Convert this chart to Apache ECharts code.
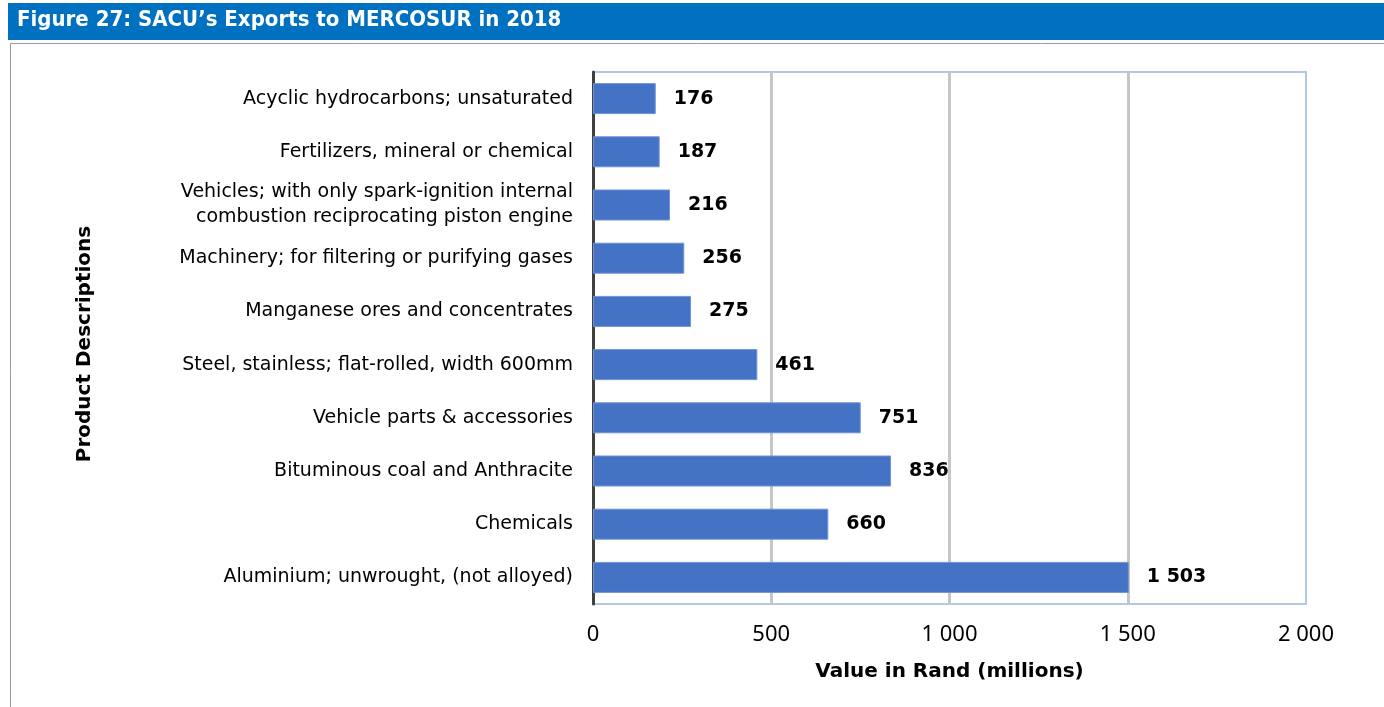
<!DOCTYPE html>
<html>
<head>
<meta charset="utf-8">
<script src="https://cdn.jsdelivr.net/npm/echarts@6/dist/echarts.min.js"></script>
<style>
html,body{margin:0;padding:0;background:#fff;}
#c{width:1384px;height:707px;}
</style>
</head>
<body>
<div id="c"></div>
<script>
const titleText = "Figure 27: SACU\u2019s Exports to MERCOSUR in 2018";
const categories = [
  "Acyclic hydrocarbons; unsaturated",
  "Fertilizers, mineral or chemical",
  "Vehicles; with only spark-ignition internal\ncombustion reciprocating piston engine",
  "Machinery; for filtering or purifying gases",
  "Manganese ores and concentrates",
  "Steel, stainless; flat-rolled, width 600mm",
  "Vehicle parts & accessories",
  "Bituminous coal and Anthracite",
  "Chemicals",
  "Aluminium; unwrought, (not alloyed)"
];
const values = [176, 187, 216, 256, 275, 461, 751, 836, 660, 1503];
const xAxisName = "Value in Rand (millions)";
const yAxisName = "Product Descriptions";

function fmt(v){ return String(v).replace(/\B(?=(\d{3})+(?!\d))/g, ' '); }

const FONT = "'DejaVu Sans', sans-serif";
const TICKFONT = "'Noto Sans', sans-serif";
const chart = echarts.init(document.getElementById('c'), null, {renderer:'canvas'});
chart.setOption({
  backgroundColor: '#ffffff',
  animation: false,
  textStyle: {fontFamily: FONT},
  graphic: [
    {type:'rect', shape:{x:8, y:3, width:1376, height:37}, style:{fill:'#0070C0'}, z:0},
    {type:'rect', shape:{x:10.5, y:43.5, width:1380, height:680}, style:{fill:'none', stroke:'#9a9a9a', lineWidth:1}, z:0},
    {type:'text', left:17, top:9, style:{text:titleText, fill:'#ffffff', font:"bold 22px 'DejaVu Sans Condensed', 'DejaVu Sans', sans-serif"}, z:5}
  ],
  grid: {left:593, top:72, width:713, height:532, show:true, borderColor:'#B4C7E7', borderWidth:2, backgroundColor:'transparent'},
  xAxis: {
    type:'value', min:0, max:2000, interval:500,
    name:xAxisName, nameLocation:'middle', nameGap:58,
    nameTextStyle:{fontSize:20, fontWeight:'bold', color:'#000', fontFamily:FONT},
    axisLine:{show:false}, axisTick:{show:false},
    axisLabel:{formatter:fmt, fontSize:22, color:'#000', margin:20, fontFamily:TICKFONT},
    splitLine:{show:true, showMinLine:false, showMaxLine:false, lineStyle:{color:'#c6c6c6', width:3}}
  },
  yAxis: {
    type:'category', data:categories, inverse:true,
    name:yAxisName, nameLocation:'middle', nameGap:498, nameRotate:90,
    nameTextStyle:{fontSize:20, fontWeight:'bold', color:'#000', fontFamily:FONT, padding:[0,12,0,0]},
    axisLine:{show:true, lineStyle:{color:'#404040', width:3}},
    axisTick:{show:false},
    axisLabel:{fontSize:19, color:'#000', margin:20, lineHeight:25, align:'right', fontFamily:FONT},
    splitLine:{show:false}
  },
  series: [{
    type:'bar', data:values, barWidth:31,
    itemStyle:{color:'#4472C4', borderColor:'#6f93d6', borderWidth:1},
    label:{show:true, position:'right', distance:18, formatter:p=>fmt(p.value), fontSize:19, fontWeight:'bold', color:'#000', fontFamily:FONT}
  }]
});
</script>
</body>
</html>
